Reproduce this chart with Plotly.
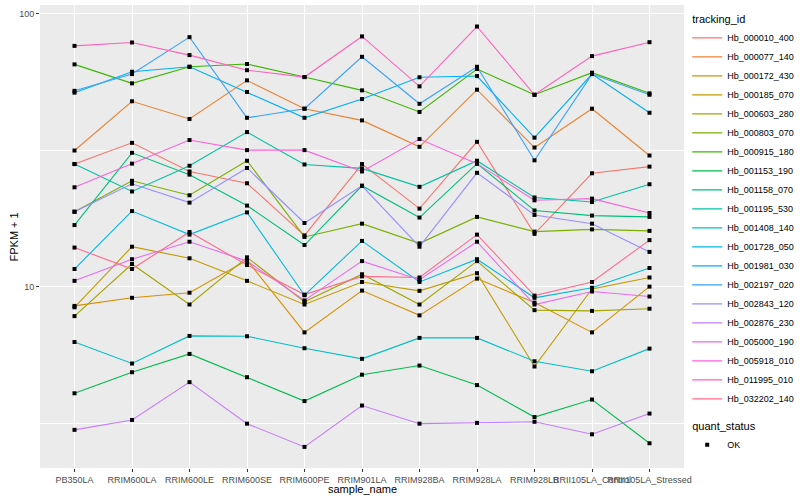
import plotly.graph_objects as go

samples = ["PB350LA", "RRIM600LA", "RRIM600LE", "RRIM600SE", "RRIM600PE", "RRIM901LA",
           "RRIM928BA", "RRIM928LA", "RRIM928LB", "RRII105LA_Control", "RRII105LA_Stressed"]

tracking_ids = ["Hb_000010_400", "Hb_000077_140", "Hb_000172_430", "Hb_000185_070",
                "Hb_000603_280", "Hb_000803_070", "Hb_000915_180", "Hb_001153_190",
                "Hb_001158_070", "Hb_001195_530", "Hb_001408_140", "Hb_001728_050",
                "Hb_001981_030", "Hb_002197_020", "Hb_002843_120", "Hb_002876_230",
                "Hb_005000_190", "Hb_005918_010", "Hb_011995_010", "Hb_032202_140"]

# FPKM + 1 per sample
Hb_000010_400 = [28.1, 33.6, 26.4, 23.9, 15.4, 28.1, 19.3, 33.9, 15.6, 26.0, 27.5]
Hb_000077_140 = [31.5, 47.7, 41.1, 56.9, 44.8, 40.6, 32.5, 52.6, 32.3, 44.8, 30.2]
Hb_000172_430 = [8.5, 9.1, 9.5, 12.5, 6.8, 9.67, 7.85, 10.7, 8.74, 6.8, 10.0]
Hb_000185_070 = [8.4, 14.0, 12.7, 10.5, 8.6, 10.4, 9.65, 11.2, 5.1, 9.8, 10.8]
Hb_000603_280 = [7.8, 12.1, 8.6, 12.8, 8.8, 11.1, 8.6, 12.4, 8.2, 8.15, 8.3]
Hb_000803_070 = [18.8, 24.4, 21.6, 28.9, 15.2, 17.0, 14.4, 18.0, 15.9, 16.2, 16.0]
Hb_000915_180 = [65.1, 55.5, 63.8, 65.3, 58.5, 52.3, 43.6, 62.6, 50.4, 60.7, 51.0]
Hb_001153_190 = [4.07, 4.86, 5.67, 4.66, 3.81, 4.76, 5.14, 4.36, 3.33, 3.86, 2.67]
Hb_001158_070 = [16.8, 30.9, 25.7, 19.8, 14.2, 23.4, 17.9, 28.2, 19.0, 18.2, 18.0]
Hb_001195_530 = [28.1, 22.3, 27.7, 36.8, 28.0, 27.1, 23.2, 28.9, 21.2, 20.4, 23.7]
Hb_001408_140 = [6.27, 5.23, 6.6, 6.58, 5.95, 5.44, 6.49, 6.49, 5.33, 4.90, 5.93]
Hb_001728_050 = [11.6, 18.9, 15.5, 18.7, 9.3, 14.7, 10.4, 12.6, 9.1, 9.9, 11.7]
Hb_001981_030 = [51.3, 61.2, 63.8, 51.6, 41.5, 48.6, 58.4, 59.0, 35.1, 60.0, 43.3]
Hb_002197_020 = [52.1, 60.0, 81.9, 41.5, 44.8, 69.4, 46.7, 63.8, 29.0, 60.0, 50.4]
Hb_002843_120 = [18.8, 23.8, 20.3, 27.2, 17.1, 23.4, 14.0, 26.1, 18.3, 17.0, 13.4]
Hb_002876_230 = [2.99, 3.25, 4.47, 3.15, 2.59, 3.67, 3.15, 3.17, 3.2, 2.88, 3.43]
Hb_005000_190 = [10.5, 12.6, 14.6, 12.4, 8.9, 12.4, 10.6, 14.6, 8.6, 9.6, 9.2]
Hb_005918_010 = [23.1, 28.2, 34.4, 31.6, 31.6, 26.4, 34.7, 28.2, 20.7, 21.0, 18.6]
Hb_011995_010 = [76.1, 78.3, 70.4, 62.0, 58.5, 82.4, 54.1, 89.6, 50.4, 69.8, 78.5]
Hb_032202_140 = [13.9, 11.6, 15.85, 12.0, 9.35, 10.9, 10.8, 15.5, 9.27, 10.4, 14.8]

series = [Hb_000010_400, Hb_000077_140, Hb_000172_430, Hb_000185_070, Hb_000603_280,
          Hb_000803_070, Hb_000915_180, Hb_001153_190, Hb_001158_070, Hb_001195_530,
          Hb_001408_140, Hb_001728_050, Hb_001981_030, Hb_002197_020, Hb_002843_120,
          Hb_002876_230, Hb_005000_190, Hb_005918_010, Hb_011995_010, Hb_032202_140]

colors = ["#F8766D", "#EA8331", "#D89000", "#C09B00", "#A3A500", "#7CAE00", "#39B600",
          "#00BB4E", "#00BF7D", "#00C1A3", "#00BFC4", "#00BAE0", "#00B0F6", "#35A2FF",
          "#9590FF", "#C77CFF", "#E76BF3", "#FA62DB", "#FF62BC", "#FF6C91"]

quant_status = "OK"

FONT = "Liberation Sans, Arial, sans-serif"

fig = go.Figure()

for i, (tid, vals, col) in enumerate(zip(tracking_ids, series, colors)):
    fig.add_trace(go.Scatter(
        x=samples, y=vals, mode="lines", name=tid,
        line=dict(color=col, width=1.1),
        legendgroup="tracking",
        legendgrouptitle=dict(text="tracking_id", font=dict(size=11, color="black")) if i == 0 else None,
        hoverinfo="skip",
    ))

for i, (tid, vals) in enumerate(zip(tracking_ids, series)):
    fig.add_trace(go.Scatter(
        x=samples, y=vals, mode="markers", name=quant_status,
        marker=dict(color="black", symbol="square", size=4, line=dict(width=0)),
        legendgroup="quant", showlegend=(i == 0),
        legendgrouptitle=dict(text="quant_status", font=dict(size=11, color="black")) if i == 0 else None,
        hoverinfo="skip",
    ))

PANEL_W = 800 - 40 - 116
PANEL_H = 500 - 5 - 32

fig.update_layout(
    width=800, height=500,
    margin=dict(l=40, r=116, t=5, b=32, autoexpand=False),
    paper_bgcolor="white",
    plot_bgcolor="#EBEBEB",
    font=dict(family=FONT, size=9, color="#4D4D4D"),
    legend=dict(
        x=1.005, y=0.51, xanchor="left", yanchor="middle",
        font=dict(size=9, color="black"),
        tracegroupgap=8, itemwidth=30,
        bgcolor="rgba(0,0,0,0)",
    ),
    showlegend=True,
    annotations=[
        dict(text="sample_name", xref="paper", yref="paper", x=0.5, y=-21 / PANEL_H,
             xanchor="center", yanchor="middle", showarrow=False,
             font=dict(size=11, color="black", family=FONT)),
        dict(text="FPKM + 1", xref="paper", yref="paper", x=-27 / PANEL_W, y=0.5,
             xanchor="center", yanchor="middle", showarrow=False, textangle=-90,
             font=dict(size=11, color="black", family=FONT)),
    ],
)

fig.update_xaxes(
    type="category", categoryorder="array", categoryarray=samples,
    range=[-0.6, 10.6], automargin=False,
    showgrid=True, gridcolor="white", gridwidth=1.1,
    zeroline=False, showline=False,
    ticks="outside", ticklen=3, tickwidth=1, tickcolor="#333333",
    tickangle=0, tickfont=dict(size=9, color="#4D4D4D"),
)

fig.update_yaxes(
    type="log", range=[0.336, 2.031], automargin=False,
    tickmode="array", tickvals=[10, 100], ticktext=["10", "100"],
    showgrid=True, gridcolor="white", gridwidth=1.1,
    minor=dict(tickmode="array", tickvals=[3.1623, 31.623], showgrid=True,
               gridcolor="white", gridwidth=0.55, ticks=""),
    zeroline=False, showline=False,
    ticks="outside", ticklen=3, tickwidth=1, tickcolor="#333333",
    tickfont=dict(size=9, color="#4D4D4D"),
)

fig.write_html(
    "out.html",
    config={"displayModeBar": False},
    post_script="document.body.style.margin='0';document.body.style.padding='0';",
)
